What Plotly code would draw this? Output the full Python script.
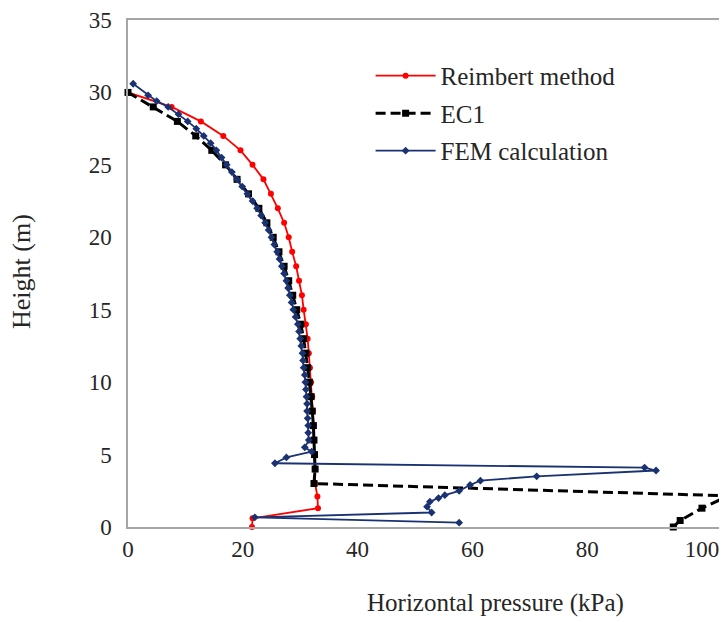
import plotly.graph_objects as go

# Reimbert method
reim_h = [30, 29, 28, 27, 26, 25, 24, 23, 22, 21, 20, 19, 18, 17, 16, 15, 14, 13, 12, 11, 10,
          9, 8, 7, 6, 5, 4, 3, 2.1, 1.3, 0.6, 0.0]
reim_p = [0.0, 7.6, 12.7, 16.6, 19.6, 21.7, 23.6, 24.9, 26.1, 27.2, 28.0, 28.6, 29.3, 29.8, 30.3,
          30.6, 31.0, 31.3, 31.5, 31.7, 31.9, 32.1, 32.2, 32.3, 32.4, 32.5, 32.6, 32.6, 33.0, 33.1,
          21.7, 21.6]

# EC1
ec1_h = [30, 29, 28, 27, 26, 25, 24, 23, 22, 21, 20, 19, 18, 17, 16, 15, 14, 13, 12, 11, 10,
         9, 8, 7, 6, 5, 4, 3, 2.15, 1.3, 0.45, 0.0]
ec1_p = [0.0, 4.4, 8.6, 11.8, 14.6, 17.0, 19.0, 21.0, 22.8, 24.2, 25.3, 26.3, 27.2, 28.0, 28.7,
         29.4, 30.1, 30.6, 31.0, 31.3, 31.6, 31.9, 32.1, 32.3, 32.4, 32.5, 32.6, 32.4, 104.6,
         100.0, 96.2, 95.0]

# FEM calculation
fem_h = [30.6, 29.8, 29.4, 29.0, 28.5, 28.0, 27.5, 27.0, 26.5, 26.0, 25.5, 25.0, 24.5, 24.0,
         23.5, 23.0, 22.5, 22.0, 21.5, 21.0, 20.5, 20.0, 19.5, 19.0, 18.5, 18.0, 17.5, 17.0,
         16.5, 16.0, 15.5, 15.0, 14.5, 14.0, 13.5, 13.0, 12.5, 12.0, 11.5, 11.0, 10.5, 10.0,
         9.5, 9.0, 8.5, 8.0, 7.5, 7.0, 6.5, 6.0, 5.5, 5.2, 4.8, 4.4, 4.1, 3.9, 3.5, 3.2, 2.9,
         2.5, 2.2, 2.0, 1.75, 1.4, 1.0, 0.67, 0.3]
fem_p = [0.9, 3.5, 5.0, 7.0, 8.8, 10.4, 11.9, 13.2, 14.4, 15.4, 16.3, 17.2, 18.1, 19.0,
         19.9, 20.8, 21.7, 22.5, 23.2, 23.9, 24.5, 25.0, 25.5, 26.0, 26.4, 26.8, 27.2, 27.6,
         27.9, 28.2, 28.5, 28.8, 29.2, 29.6, 29.8, 30.0, 30.2, 30.4, 30.5, 30.6, 30.8, 30.9,
         31.0, 31.1, 31.2, 31.2, 31.3, 31.4, 31.4, 31.5, 30.8, 32.0, 27.6, 25.6, 90.0, 92.0,
         71.2, 61.4, 59.6, 57.7, 55.2, 54.1, 52.6, 52.1, 52.9, 22.1, 57.7]

x_ticks = [0, 20, 40, 60, 80, 100]
y_ticks = [0, 5, 10, 15, 20, 25, 30, 35]

FONT = "Liberation Serif"
TXT = "#262626"
AX = "#A6A6A6"

fig = go.Figure()
fig.add_trace(go.Scatter(
    x=reim_p, y=reim_h, mode="lines+markers", name="Reimbert method", legendgroup="a",
    line=dict(color="#FF0000", width=1.8), cliponaxis=False,
    marker=dict(symbol="circle", size=6, color="#FF0000"),
))
fig.add_trace(go.Scatter(
    x=ec1_p, y=ec1_h, mode="lines+markers", name="EC1", legendgroup="b",
    line=dict(color="#000000", width=3, dash="10px,5px"), cliponaxis=False,
    marker=dict(symbol="square", size=7, color="#000000"),
))
fig.add_trace(go.Scatter(
    x=fem_p, y=fem_h, mode="lines+markers", name="FEM calculation", legendgroup="c",
    line=dict(color="#1B3272", width=1.8), cliponaxis=False,
    marker=dict(symbol="diamond", size=6, color="#1B3272"),
))

# page body has an 8px margin; size the figure so the plot area lands where the reference has it
fig.update_layout(
    width=719, height=614,
    margin=dict(l=120, r=0, t=10, b=95),
    paper_bgcolor="white", plot_bgcolor="white",
    font=dict(family=FONT, color=TXT, size=23),
    showlegend=True,
    legend=dict(
        x=0.405, y=0.935, xanchor="left", yanchor="top",
        font=dict(family=FONT, size=25, color=TXT),
        bgcolor="rgba(0,0,0,0)", tracegroupgap=2,
        itemwidth=60,
    ),
    xaxis=dict(
        range=[0, 104.36], tickvals=x_ticks, showgrid=False, zeroline=False,
        showline=True, linecolor=AX, linewidth=1.5, mirror=True, ticks="",
        tickfont=dict(family=FONT, size=23, color=TXT), ticklabelstandoff=1,
        ticklabeloverflow="allow",
    ),
    yaxis=dict(
        range=[0, 35], tickvals=y_ticks, showgrid=False, zeroline=False,
        showline=True, linecolor=AX, linewidth=1.5, ticks="",
        tickfont=dict(family=FONT, size=23, color=TXT), ticklabelstandoff=10,
        ticklabeloverflow="allow",
    ),
    annotations=[
        dict(text="Horizontal pressure (kPa)", xref="paper", yref="paper",
             x=0.614, y=-0.149, showarrow=False, xanchor="center", yanchor="middle",
             font=dict(family=FONT, size=25, color=TXT)),
        dict(text="Height (m)", xref="paper", yref="paper", textangle=-90,
             x=-0.177, y=0.505, showarrow=False, xanchor="center", yanchor="middle",
             font=dict(family=FONT, size=26, color=TXT)),
    ],
)

fig.write_html("out.html")
